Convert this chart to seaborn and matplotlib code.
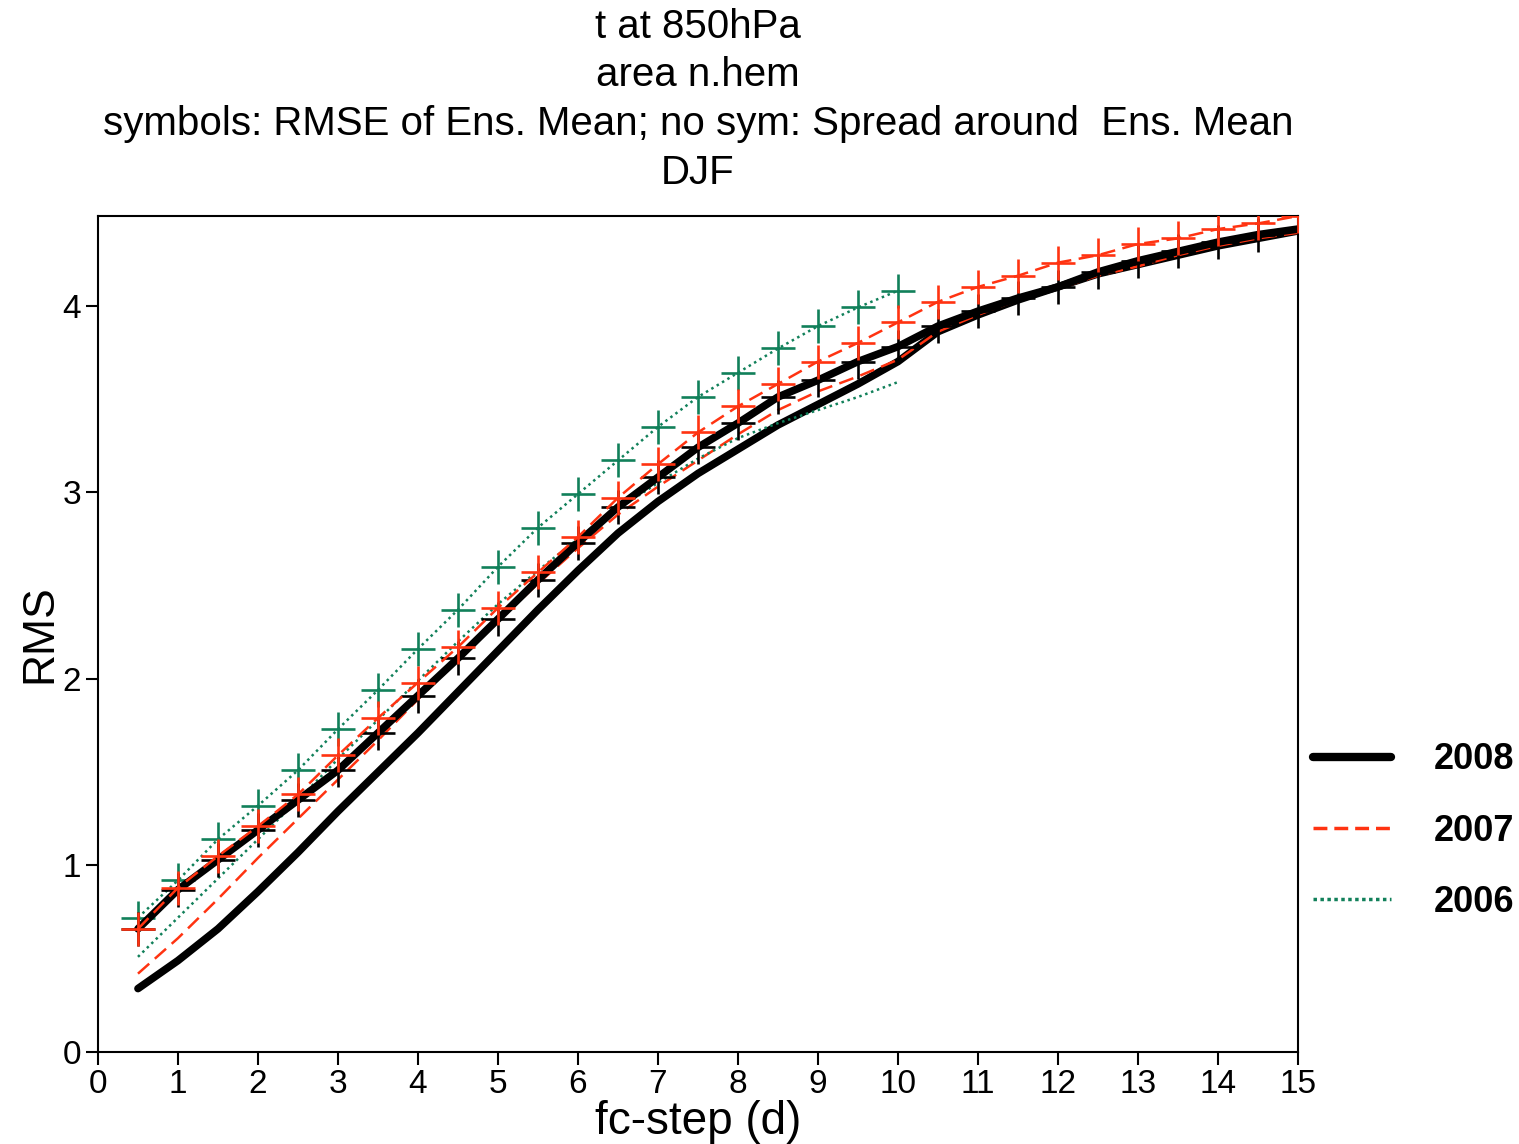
import matplotlib
matplotlib.use("Agg")
import matplotlib.pyplot as plt
from matplotlib.lines import Line2D
import numpy as np
import pandas as pd
import seaborn as sns

# forecast steps (days)
steps_15 = [0.5, 1, 1.5, 2, 2.5, 3, 3.5, 4, 4.5, 5, 5.5, 6, 6.5, 7, 7.5, 8, 8.5, 9, 9.5, 10,
            10.5, 11, 11.5, 12, 12.5, 13, 13.5, 14, 14.5, 15]
steps_10 = steps_15[:20]

# RMSE of ensemble mean (symbols)
rmse_2008 = [0.66, 0.87, 1.03, 1.19, 1.35, 1.51, 1.71, 1.91, 2.11, 2.32, 2.53, 2.73, 2.92, 3.08, 3.24,
             3.37, 3.51, 3.60, 3.70, 3.78, 3.89, 3.97, 4.04, 4.10, 4.18, 4.24, 4.29, 4.34, 4.38, 4.41]
rmse_2007 = [0.66, 0.88, 1.05, 1.21, 1.38, 1.59, 1.79, 1.98, 2.17, 2.38, 2.57, 2.76, 2.97, 3.15, 3.32,
             3.46, 3.58, 3.70, 3.80, 3.91, 4.02, 4.10, 4.16, 4.23, 4.27, 4.33, 4.36, 4.41, 4.44, 4.48]
rmse_2006 = [0.72, 0.92, 1.14, 1.32, 1.51, 1.73, 1.94, 2.16, 2.37, 2.60, 2.81, 2.99, 3.17, 3.35, 3.51,
             3.64, 3.77, 3.89, 3.99, 4.08]

# spread around ensemble mean (no symbols)
spread_2008 = [0.34, 0.49, 0.66, 0.86, 1.07, 1.29, 1.50, 1.71, 1.93, 2.15, 2.37, 2.58, 2.78, 2.95, 3.10,
               3.23, 3.36, 3.47, 3.58, 3.70, 3.86, 3.95, 4.03, 4.10, 4.17, 4.22, 4.27, 4.32, 4.36, 4.40]
spread_2007 = [0.42, 0.61, 0.82, 1.04, 1.25, 1.46, 1.67, 1.89, 2.10, 2.31, 2.51, 2.70, 2.88, 3.03, 3.17,
               3.31, 3.44, 3.54, 3.62, 3.71, 3.86, 3.95, 4.03, 4.09, 4.16, 4.21, 4.27, 4.32, 4.36, 4.39]
spread_2006 = [0.51, 0.72, 0.93, 1.14, 1.35, 1.57, 1.78, 1.99, 2.20, 2.40, 2.58, 2.75, 2.91, 3.05, 3.18,
               3.29, 3.37, 3.44, 3.51, 3.59]

years = ["2008", "2007", "2006"]
black = "#000000"
red = "#ff3311"
green = "#11805a"

sns.set_style("ticks")
plt.rcParams['font.family'] = ['Liberation Sans', 'DejaVu Sans']
for k in ['text.color', 'axes.labelcolor', 'xtick.color', 'ytick.color', 'axes.edgecolor']:
    plt.rcParams[k] = 'black'

fig = plt.figure(figsize=(15.19, 11.44), dpi=100, facecolor='white')
ax = fig.add_axes([0.0645, 0.0804, 0.79, 0.7308])

dash = (0, (6, 3))
dot = (0, (1, 1.5))

# spread lines
sns.lineplot(x=steps_15, y=spread_2008, ax=ax, color=black, linewidth=5.5, zorder=3)
sns.lineplot(x=steps_15, y=spread_2007, ax=ax, color=red, linewidth=1.8, linestyle=dash, zorder=4)
sns.lineplot(x=steps_10, y=spread_2006, ax=ax, color=green, linewidth=1.8, linestyle=dot, zorder=4)

# rmse lines with symbols
mk = dict(marker='+', markersize=24, markeredgewidth=1.9)
sns.lineplot(x=steps_10, y=rmse_2006, ax=ax, color=green, linewidth=1.8, linestyle=dot,
             markeredgecolor=green, zorder=5, **mk)
sns.lineplot(x=steps_15, y=rmse_2008, ax=ax, color=black, linewidth=5.5,
             markeredgecolor=black, zorder=5, **mk)
sns.lineplot(x=steps_15, y=rmse_2007, ax=ax, color=red, linewidth=1.8, linestyle=dash,
             markeredgecolor=red, zorder=6, **mk)

ax.set_xlim(0, 15)
ax.set_ylim(0, 4.48)
ax.set_xticks(range(0, 16))
ax.set_yticks([0, 1, 2, 3, 4])
ax.tick_params(axis='both', direction='out', length=9, width=1.5, labelsize=24, pad=3)
for s in ax.spines.values():
    s.set_linewidth(1.5)
    s.set_visible(True)
ax.set_xlabel('fc-step (d)', fontsize=33, labelpad=0)
ax.set_ylabel('RMS', fontsize=32, labelpad=2)
ax.grid(False)

# title block
title_lines = ["t at 850hPa", "area n.hem",
               "symbols: RMSE of Ens. Mean; no sym: Spread around  Ens. Mean", "DJF"]
for i, line in enumerate(title_lines):
    fig.text(0.4595, 1 - (27 + 48.5 * i) / 1144, line, ha='center', va='center', fontsize=29)

# legend outside on the right
handles = [Line2D([], [], color=black, linewidth=6),
           Line2D([], [], color=red, linewidth=2.5, linestyle=(0, (4, 2))),
           Line2D([], [], color=green, linewidth=2.5, linestyle=(0, (1, 1)))]
leg = fig.legend(handles, years, loc='upper left', bbox_to_anchor=(0.8644, 0.351),
                 frameon=False, handlelength=2.15, handletextpad=1.2, labelspacing=1.0,
                 borderpad=0, borderaxespad=0,
                 prop={'size': 26, 'weight': 'bold'})

plt.savefig('out.png', dpi=100, facecolor='white')
